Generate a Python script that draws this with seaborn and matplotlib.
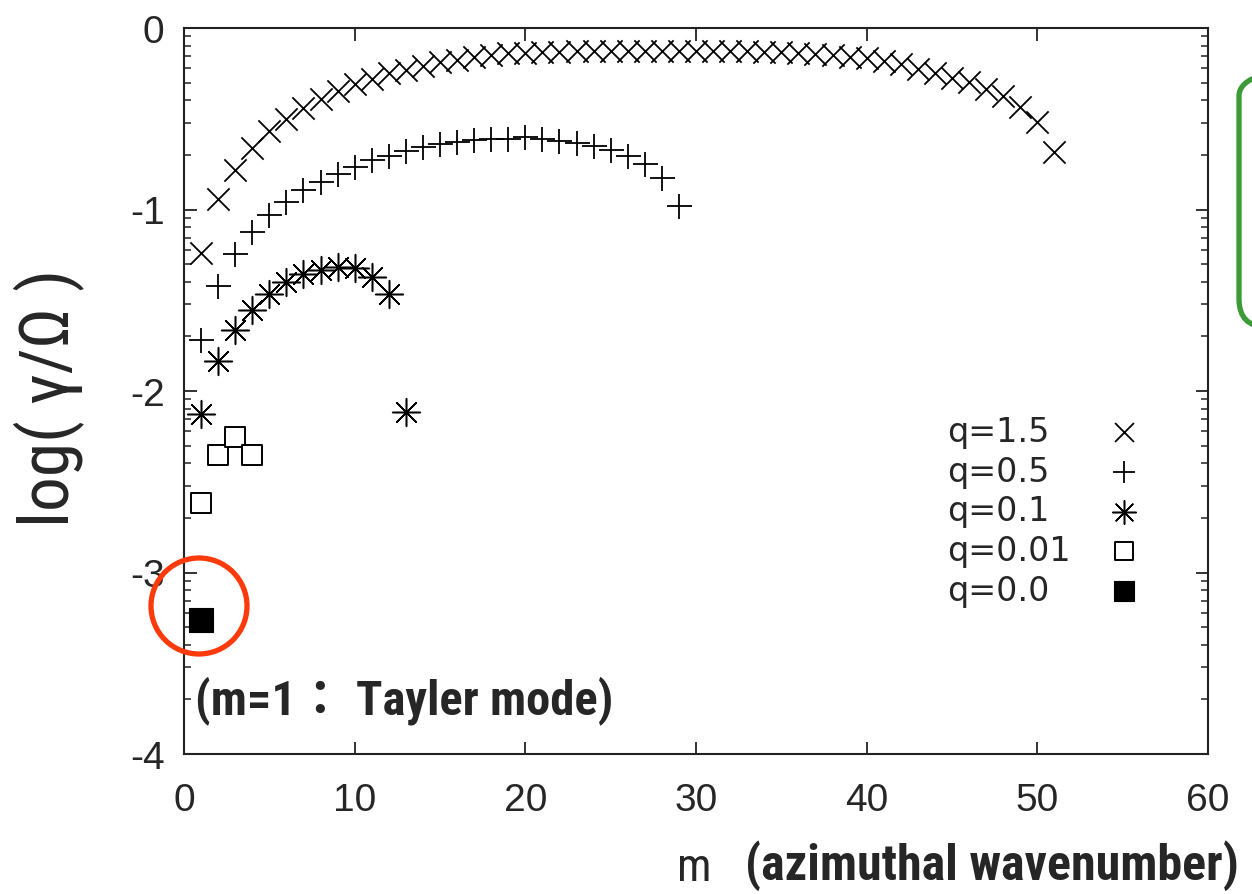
import numpy as np
import pandas as pd
import matplotlib
matplotlib.use("Agg")
import matplotlib.pyplot as plt
import seaborn as sns
from matplotlib import font_manager as fm
from matplotlib.patches import Ellipse, FancyBboxPatch
from matplotlib.transforms import IdentityTransform

# ---------------- data ----------------
m_q15 = [1, 2, 3, 4, 5, 6, 7, 8, 9, 10, 11, 12, 13, 14, 15, 16, 17, 18, 19, 20,
         21, 22, 23, 24, 25, 26, 27, 28, 29, 30, 31, 32, 33, 34, 35, 36, 37, 38, 39, 40,
         41, 42, 43, 44, 45, 46, 47, 48, 49, 50, 51]
g_q15 = [-1.24, -0.94, -0.78, -0.66, -0.57, -0.50, -0.44, -0.39, -0.345, -0.31,
         -0.28, -0.25, -0.23, -0.21, -0.19, -0.175, -0.16, -0.15, -0.14, -0.135,
         -0.132, -0.13, -0.128, -0.127, -0.126, -0.125, -0.125, -0.125, -0.125, -0.125,
         -0.126, -0.127, -0.128, -0.13, -0.133, -0.137, -0.142, -0.149, -0.158, -0.168,
         -0.18, -0.2, -0.225, -0.25, -0.275, -0.3, -0.335, -0.373, -0.435, -0.52, -0.685]

m_q05 = [1, 2, 3, 4, 5, 6, 7, 8, 9, 10, 11, 12, 13, 14, 15, 16, 17, 18, 19, 20,
         21, 22, 23, 24, 25, 26, 27, 28, 29]
g_q05 = [-1.717, -1.42, -1.245, -1.126, -1.03, -0.96, -0.893, -0.85, -0.804, -0.768,
         -0.73, -0.703, -0.68, -0.657, -0.639, -0.627, -0.615, -0.613, -0.612, -0.602,
         -0.61, -0.62, -0.634, -0.652, -0.67, -0.703, -0.75, -0.828, -0.979]

m_q01 = [1, 2, 3, 4, 5, 6, 7, 8, 9, 10, 11, 12, 13]
g_q01 = [-2.127, -1.833, -1.662, -1.551, -1.466, -1.40, -1.355, -1.331, -1.318, -1.324,
         -1.374, -1.466, -2.117]

m_q001 = [1, 2, 3, 4]
g_q001 = [-2.617, -2.353, -2.255, -2.353]

m_q00 = [1]
g_q00 = [-3.262]

series_labels = ["q=1.5", "q=0.5", "q=0.1", "q=0.01", "q=0.0"]
x_ticks = [0, 10, 20, 30, 40, 50, 60]
x_tick_labels = ["0", "10", "20", "30", "40", "50", "60"]
y_ticks = [-4, -3, -2, -1, 0]
y_tick_labels = ["-4", "-3", "-2", "-1", "0"]
x_label = "m"
x_label_note = "(azimuthal wavenumber)"
y_label = "log( γ/Ω )"
note_text = "(m=1： Tayler mode)"

# ---------------- fonts ----------------
def pick(cands, default, **kw):
    for c in cands:
        try:
            fm.findfont(fm.FontProperties(family=c, **kw), fallback_to_default=False)
            return c
        except Exception:
            pass
    return default

narrow = pick(["Liberation Sans Narrow", "Roboto Condensed", "DejaVu Sans Condensed"], None)

sns.set_style("ticks")
plt.rcParams["font.family"] = ["Liberation Sans", "DejaVu Sans"]
plt.rcParams["axes.unicode_minus"] = False

# ---------------- data frame ----------------
frames = []
for lab, mm, gg in zip(series_labels,
                       [m_q15, m_q05, m_q01, m_q001, m_q00],
                       [g_q15, g_q05, g_q01, g_q001, g_q00]):
    frames.append(pd.DataFrame({"m": mm, "g": gg, "q": lab}))
df = pd.concat(frames, ignore_index=True)

styles = {
    "q=1.5": dict(marker="x", s=16 ** 2, linewidth=1.3, color="black"),
    "q=0.5": dict(marker="+", s=18 ** 2, linewidth=1.3, color="black"),
    "q=0.1": dict(marker=(8, 2, 0), s=20 ** 2, linewidth=1.1, color="black"),
    "q=0.01": dict(marker="s", s=14.5 ** 2, linewidth=1.4, color="black",
                   facecolor="white", edgecolor="black"),
    "q=0.0": dict(marker="s", s=17 ** 2, linewidth=0.8, color="black", edgecolor="black"),
}

fig = plt.figure(figsize=(12.52, 8.95), dpi=100)
ax = fig.add_axes([184 / 1252, 1 - 755 / 895, 1024 / 1252, 726 / 895])

for lab in series_labels:
    sub = df[df["q"] == lab]
    sns.scatterplot(data=sub, x="m", y="g", ax=ax, label=lab, zorder=3, **styles[lab])

ax.set_xlim(0, 60)
ax.set_ylim(-4, 0)
ax.set_xticks(x_ticks, labels=x_tick_labels)
ax.set_yticks(y_ticks, labels=y_tick_labels)
minor = [d + np.log10(k) for d in range(-4, 0) for k in range(2, 10)]
ax.set_yticks(minor, minor=True)

for sp in ax.spines.values():
    sp.set_visible(True)
    sp.set_linewidth(1.5)
    sp.set_color("#222222")

ax.tick_params(axis="both", which="major", direction="in", top=True, right=True,
               length=9, width=1.3, labelsize=28, color="#222222")
ax.tick_params(axis="y", which="minor", direction="in", left=True, right=True,
               length=5, width=1.1, color="#222222")
ax.tick_params(axis="y", which="major", pad=14)
ax.tick_params(axis="x", which="major", pad=20)

# axis labels
ylab_font = narrow if narrow else "Liberation Sans"
ylab_size = 50 if narrow else 40
ax.set_ylabel(y_label, fontsize=ylab_size, family=[ylab_font, "DejaVu Sans"])
ax.yaxis.set_label_coords((84 - 184) / 1024, (755 - 398) / 726)

xlab_font = narrow if narrow else "Liberation Sans"
ax.set_xlabel(x_label, fontsize=33, family=[xlab_font, "DejaVu Sans"])
ax.xaxis.set_label_coords((694 - 184) / 1024, (755 - 846) / 726)

if narrow:
    bold_fam = [narrow, "Noto Sans CJK JP", "DejaVu Sans"]
    bold_size = 36
    note_size = 35
else:
    bold_fam = ["Liberation Sans", "Noto Sans CJK JP", "DejaVu Sans"]
    bold_size = 30
    note_size = 29

fig.text(745 / 1252, 1 - 880 / 895, x_label_note, ha="left", va="baseline",
         fontsize=bold_size, fontweight="bold", family=bold_fam)
fig.text(195 / 1252, 1 - 714 / 895, note_text, ha="left", va="baseline",
         fontsize=note_size, fontweight="bold", family=bold_fam)

# legend: text left-aligned, markers in a column on the right
leg = ax.legend(loc="upper left", bbox_to_anchor=(947 / 1252, 1 - 416 / 895),
                bbox_transform=fig.transFigure, frameon=False, markerfirst=False,
                prop={"family": "DejaVu Sans", "size": 24}, handlelength=1.0,
                handletextpad=1.0, labelspacing=0.2, borderpad=0, borderaxespad=0,
                markerscale=0.85)
try:
    row_width = 1141 - 947
    for col in leg._legend_handle_box.get_children():
        col.align = "left"
        for row in col.get_children():
            row.mode = "expand"
            row.width = row_width
except Exception:
    pass

# red circle around the m=1 point
circ = Ellipse((199, 895 - 607), 96, 96, transform=IdentityTransform(),
               fill=False, edgecolor="#ff3a0a", linewidth=3.8, clip_on=False, zorder=5)
fig.add_artist(circ)

# green rounded frame at right edge
box = FancyBboxPatch((1239, 895 - 328), 120, 259,
                     boxstyle="round,pad=0,rounding_size=28",
                     transform=IdentityTransform(), fill=False,
                     edgecolor="#3b9b36", linewidth=3.8, clip_on=False, zorder=5)
fig.add_artist(box)

fig.savefig("out.png", dpi=100)
